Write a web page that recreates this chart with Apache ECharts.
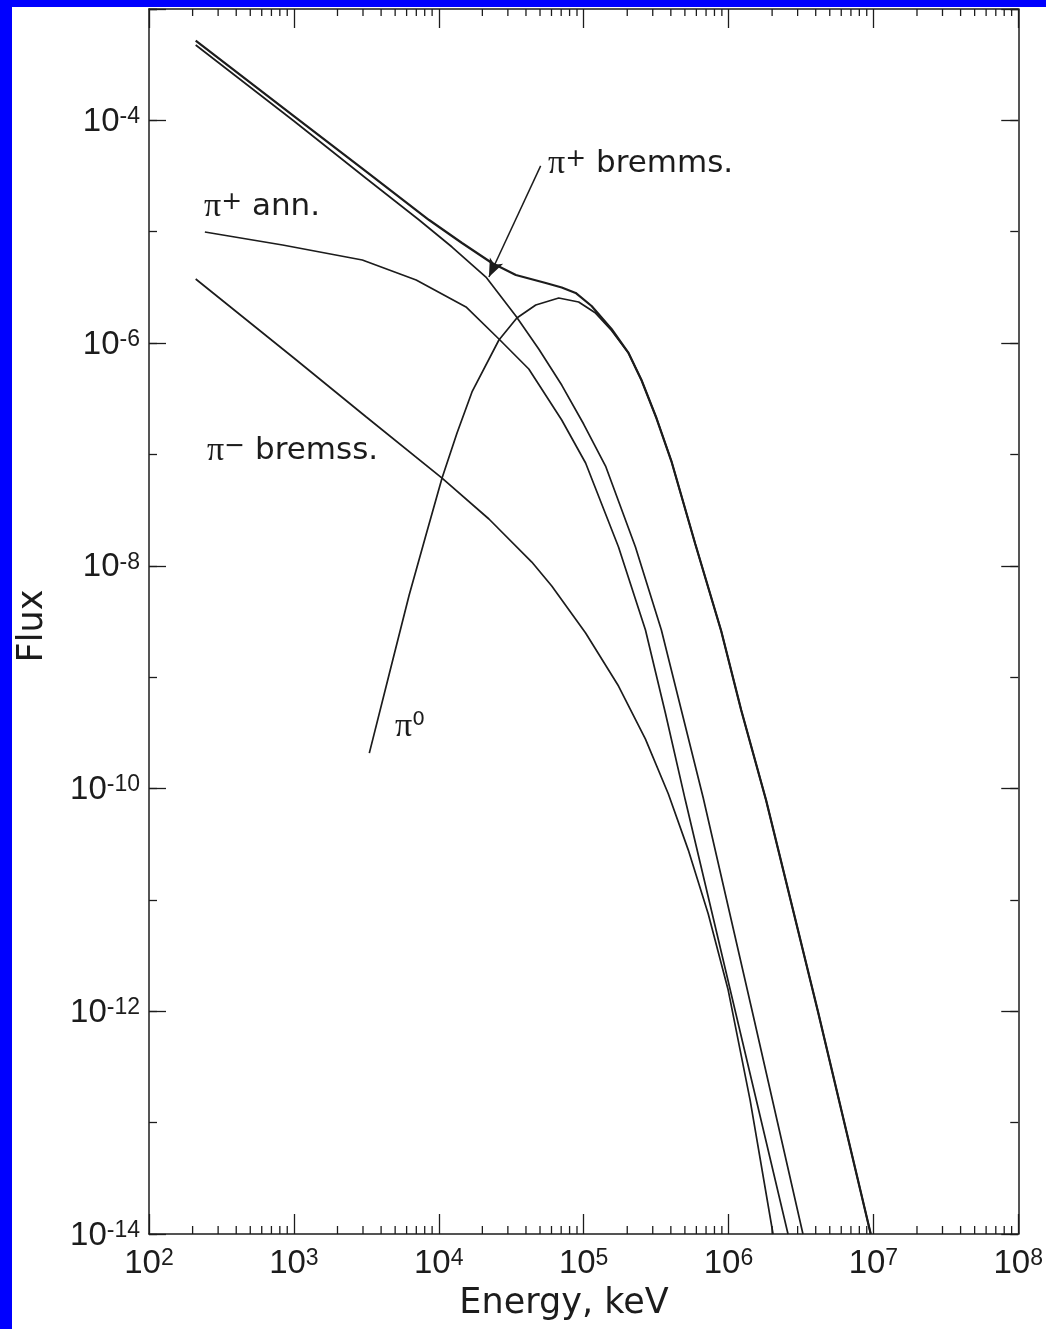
<!DOCTYPE html>
<html>
<head>
<meta charset="utf-8">
<script src="https://cdn.jsdelivr.net/npm/echarts@6/dist/echarts.min.js"></script>
<style>
  html, body { margin: 0; padding: 0; background: #0000ff; }
  #chart { width: 1046px; height: 1329px; }
</style>
</head>
<body>
<div id="chart"></div>
<script>
// ---------- data (energy in keV, flux) ----------
const totalE = [210, 1000, 3162, 8580, 14470, 23280, 34060, 54770, 70600, 88100, 113500, 155800, 204000, 250700, 318000, 403300, 589800, 890500, 1223000, 1816000, 4140000, 9590000];
const totalF = [5.19e-4, 1.094e-4, 3.46e-5, 1.274e-5, 7.92e-6, 5.24e-6, 4.09e-6, 3.463e-6, 3.155e-6, 2.82e-6, 2.153e-6, 1.338e-6, 8.15e-7, 4.66e-7, 2.124e-7, 8.73e-8, 1.569e-8, 2.598e-9, 5.07e-10, 7.88e-11, 1e-12, 1e-14];

const piPlusBremE = [210, 1000, 3162, 7322, 12350, 21170, 34060, 49000, 70600, 100000, 141700, 227900, 344100, 472400, 669500, 1478000, 3265000];
const piPlusBremF = [4.75e-4, 9.87e-5, 3.005e-5, 1.274e-5, 7.29e-6, 3.92e-6, 1.75e-6, 8.85e-7, 4.20e-7, 1.876e-7, 7.87e-8, 1.475e-8, 2.65e-9, 5.07e-10, 8.22e-11, 9.25e-13, 1e-14];

const piPlusAnnE = [243, 836, 2968, 6985, 15420, 26020, 41830, 70600, 103200, 174100, 267200, 366700, 503300, 2575000];
const piPlusAnnF = [9.94e-6, 7.60e-6, 5.57e-6, 3.68e-6, 2.11e-6, 1.088e-6, 5.85e-7, 2.04e-7, 8.38e-8, 1.475e-8, 2.65e-9, 4.77e-10, 7.88e-11, 1e-14];

const piMinusBremE = [210, 1000, 3162, 10540, 22200, 43890, 60260, 103200, 174100, 267200, 384600, 527900, 724900, 995000, 1410000, 2030000];
const piMinusBremF = [3.76e-6, 7.35e-7, 2.168e-7, 6.14e-8, 2.633e-8, 1.081e-8, 6.59e-9, 2.49e-9, 8.33e-10, 2.78e-10, 8.93e-11, 2.80e-11, 7.46e-12, 1.551e-12, 1.595e-13, 1e-14];

const piZeroE = [3317, 4552, 6250, 8054, 10540, 13370, 16960, 26020, 34600, 46740, 67300, 92400, 120900, 155800, 204000, 250700, 318000, 403300, 589800, 890500, 1223000, 1816000, 4140000, 9590000];
const piZeroF = [2.08e-10, 1.067e-9, 5.47e-9, 1.777e-8, 6.14e-8, 1.558e-7, 3.64e-7, 1.066e-6, 1.68e-6, 2.20e-6, 2.54e-6, 2.34e-6, 1.86e-6, 1.30e-6, 8.15e-7, 4.66e-7, 2.124e-7, 8.73e-8, 1.569e-8, 2.598e-9, 5.07e-10, 7.88e-11, 1e-12, 1e-14];

// axis ranges and minor tick values
const xMin = 1e2, xMax = 1e8;
const yMin = 1e-14, yMax = 1e-3;
const xMinorTicks = [];
[2, 3, 4, 5, 6, 7].forEach(function (d) {
  [2, 3, 4, 5, 6, 7, 8, 9].forEach(function (m) { xMinorTicks.push(m * Math.pow(10, d)); });
});

// arrow for the "π+ bremms." annotation (data coordinates)
const arrowFrom = [50500, 3.9e-5];
const arrowTo = [22200, 3.92e-6];

// ---------- chart ----------
const INK = '#1c1c1c';
const chart = echarts.init(document.getElementById('chart'), null, { renderer: 'canvas' });

function zip(xs, ys) { return xs.map(function (x, i) { return [x, ys[i]]; }); }
function expOf(v) { return Math.round(Math.log10(v)); }

const tickRich = {
  a: { fontFamily: 'Liberation Sans', fontSize: 33, lineHeight: 33, color: INK },
  b: { fontFamily: 'Liberation Sans', fontSize: 23, lineHeight: 23, color: INK, verticalAlign: 'top' }
};
const axisLineStyle = { color: INK, width: 1.5 };

function lineSeries(name, xs, ys, width) {
  return {
    name: name, type: 'line', xAxisIndex: 0, yAxisIndex: 0,
    data: zip(xs, ys), showSymbol: false, symbol: 'none', smooth: false,
    lineStyle: { color: INK, width: width }, silent: true, animation: false, z: 3
  };
}

function yAxisDef(position, interval, len, showLine, showLabel) {
  return {
    type: 'log', logBase: 10, min: yMin, max: yMax, interval: interval, position: position,
    axisLine: { show: showLine, onZero: false, lineStyle: axisLineStyle },
    axisTick: { show: true, inside: true, length: len, lineStyle: { color: INK, width: 1.3 } },
    splitLine: { show: false }, minorTick: { show: false },
    axisLabel: showLabel ? {
      show: true, margin: 9, rich: tickRich, padding: [3, 0, 0, 0],
      formatter: function (v) {
        const n = expOf(v);
        if (n % 2 !== 0 || n > -4) return '';
        return '{a|10}{b|' + n + '}';
      }
    } : { show: false }
  };
}

function xAxisDef(position, len, showLabel) {
  return {
    type: 'log', logBase: 10, min: xMin, max: xMax, interval: 1, position: position,
    axisLine: { show: true, onZero: false, lineStyle: axisLineStyle },
    axisTick: { show: true, inside: true, length: len, lineStyle: { color: INK, width: 1.3 } },
    splitLine: { show: false }, minorTick: { show: false },
    axisLabel: showLabel ? {
      show: true, margin: 13, rich: tickRich,
      formatter: function (v) { return '{a|10}{b|' + expOf(v) + '}'; }
    } : { show: false }
  };
}

const labelRich = function (supSize) {
  return {
    p: { fontFamily: 'Liberation Serif', fontSize: 34, lineHeight: 34, color: INK },
    s: { fontFamily: 'DejaVu Sans', fontSize: supSize, lineHeight: supSize, color: INK, verticalAlign: 'top' },
    t: { fontFamily: 'DejaVu Sans', fontSize: 31, lineHeight: 34, color: INK }
  };
};

function annot(x, y, text, supSize) {
  return {
    type: 'text', x: x, y: y, z: 10, silent: true,
    style: {
      text: text, rich: labelRich(supSize), fill: INK,
      textAlign: 'left', textVerticalAlign: 'middle', align: 'left', verticalAlign: 'middle'
    }
  };
}

const option = {
  backgroundColor: '#0000ff',
  animation: false,
  grid: { left: 149, right: 25, top: 9, bottom: 95, containLabel: false, show: false },
  xAxis: [xAxisDef('bottom', 20, true), xAxisDef('top', 19, false)],
  yAxis: [
    yAxisDef('left', 2, 17, true, true),
    yAxisDef('left', 1, 8, false, false),
    yAxisDef('right', 2, 17, true, false),
    yAxisDef('right', 1, 8, false, false)
  ],
  graphic: [
    { type: 'rect', z: -10, silent: true, shape: { x: 12, y: 7, width: 1046 - 12, height: 1329 - 7 }, style: { fill: '#ffffff' } },
    annot(204, 207, '{p|π}{s|+}{t| ann.}', 25),
    annot(207, 451, '{p|π}{s|−}{t| bremss.}', 25),
    annot(395, 727, '{p|π}{s|0}', 20),
    annot(548, 164, '{p|π}{s|+}{t| bremms.}', 25),
    {
      type: 'text', x: 33, y: 626, rotation: Math.PI / 2, z: 10, silent: true,
      style: { text: 'Flux', font: '35px "DejaVu Sans"', fill: INK, textAlign: 'center', textVerticalAlign: 'middle', align: 'center', verticalAlign: 'middle' }
    },
    {
      type: 'text', x: 564, y: 1304, z: 10, silent: true,
      style: { text: 'Energy, keV', font: '35px "DejaVu Sans"', fill: INK, textAlign: 'center', textVerticalAlign: 'middle', align: 'center', verticalAlign: 'middle' }
    }
  ],
  series: [
    lineSeries('π− bremss.', piMinusBremE, piMinusBremF, 1.7),
    lineSeries('π+ ann.', piPlusAnnE, piPlusAnnF, 1.7),
    Object.assign(lineSeries('π+ bremss.', piPlusBremE, piPlusBremF, 1.7), {
      markLine: {
        silent: true, animation: false, symbol: ['none', 'arrow'], symbolSize: [11, 18],
        lineStyle: { color: INK, width: 1.5, type: 'solid' }, label: { show: false },
        emphasis: { disabled: true },
        data: [[{ coord: arrowFrom }, { coord: arrowTo }]]
      }
    }),
    lineSeries('π0', piZeroE, piZeroF, 1.7),
    lineSeries('total', totalE, totalF, 2.2),
    {
      type: 'custom', name: 'minorTicks', xAxisIndex: 0, yAxisIndex: 0, silent: true, clip: false, z: 4,
      data: xMinorTicks.map(function (v) { return [v, yMin]; }),
      renderItem: function (params, api) {
        const v = api.value(0);
        const b = api.coord([v, yMin]);
        const t = api.coord([v, yMax]);
        const st = { stroke: INK, lineWidth: 1.3 };
        return {
          type: 'group', children: [
            { type: 'line', shape: { x1: b[0], y1: b[1], x2: b[0], y2: b[1] - 8 }, style: st },
            { type: 'line', shape: { x1: t[0], y1: t[1], x2: t[0], y2: t[1] + 7 }, style: st }
          ]
        };
      }
    }
  ]
};
chart.setOption(option);
</script>
</body>
</html>
